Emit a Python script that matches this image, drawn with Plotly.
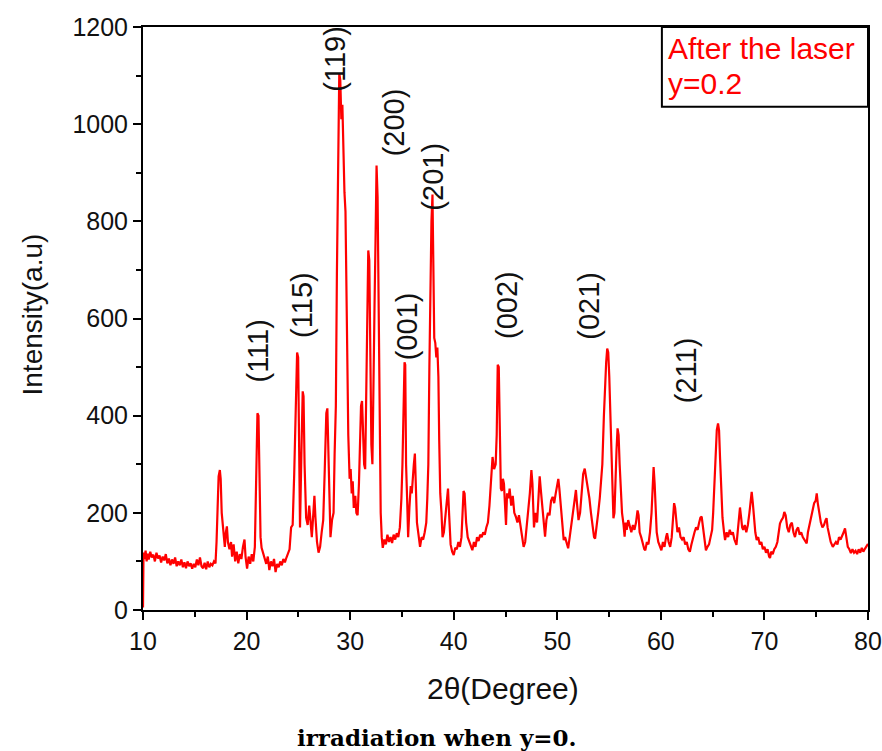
import plotly.graph_objects as go

# ---- XRD pattern: (2theta, intensity) pairs by region ----
seg_10_20 = [
    (10.0, 5), (10.05, 118), (10.15, 105), (10.25, 122), (10.35, 100), (10.45, 116), (10.55, 104),
    (10.7, 120), (10.85, 108), (11.0, 114), (11.15, 100), (11.3, 118), (11.45, 106), (11.6, 112),
    (11.75, 98), (11.9, 110), (12.05, 102), (12.2, 115), (12.35, 96), (12.5, 106), (12.65, 92),
    (12.8, 104), (12.95, 95), (13.1, 108), (13.25, 90), (13.4, 100), (13.55, 92), (13.7, 104),
    (13.85, 88), (14.0, 98), (14.15, 86), (14.3, 100), (14.45, 90), (14.6, 96), (14.75, 85),
    (14.9, 95), (15.05, 88), (15.2, 104), (15.35, 92), (15.5, 108), (15.65, 90), (15.8, 86),
    (15.95, 97), (16.1, 84), (16.25, 100), (16.4, 88), (16.55, 95), (16.7, 92), (16.85, 100),
    (17.0, 96), (17.1, 140), (17.2, 240), (17.3, 275), (17.42, 288), (17.5, 270), (17.6, 200),
    (17.7, 175), (17.8, 150), (17.9, 130), (18.0, 160), (18.1, 172), (18.2, 140), (18.35, 125),
    (18.5, 140), (18.6, 110), (18.75, 135), (18.9, 100), (19.05, 120), (19.2, 96), (19.35, 115),
    (19.5, 105), (19.65, 130), (19.8, 145), (19.9, 110),
]
seg_20_30 = [
    (20.05, 85), (20.2, 110), (20.35, 95), (20.5, 115), (20.65, 100), (20.8, 130), (20.95, 260),
    (21.05, 405), (21.15, 400), (21.25, 270), (21.35, 150), (21.45, 128), (21.6, 118), (21.75, 105),
    (21.9, 95), (22.05, 110), (22.2, 82), (22.35, 100), (22.5, 90), (22.65, 105), (22.8, 78),
    (22.95, 95), (23.1, 88), (23.25, 100), (23.4, 92), (23.55, 105), (23.7, 98), (23.85, 108),
    (24.0, 118), (24.15, 125), (24.3, 170), (24.45, 175), (24.6, 280), (24.75, 440), (24.88, 530),
    (24.98, 520), (25.08, 290), (25.16, 170), (25.3, 330), (25.42, 450), (25.5, 440), (25.6, 300),
    (25.75, 190), (25.9, 175), (26.05, 215), (26.15, 185), (26.3, 150), (26.45, 200), (26.55, 235),
    (26.65, 190), (26.8, 140), (26.95, 118), (27.1, 130), (27.25, 160), (27.4, 185), (27.55, 290),
    (27.7, 405), (27.8, 415), (27.9, 330), (28.0, 190), (28.1, 150), (28.25, 185), (28.4, 200),
    (28.5, 320), (28.62, 420), (28.72, 690), (28.85, 900), (28.95, 1105), (29.05, 1090),
    (29.15, 1010), (29.25, 1040), (29.35, 940), (29.45, 860), (29.55, 820), (29.62, 700),
    (29.72, 480), (29.82, 360), (29.95, 270),
]
seg_30_40 = [
    (30.05, 290), (30.15, 240), (30.25, 265), (30.35, 210), (30.5, 235), (30.6, 200), (30.72, 195),
    (30.85, 260), (30.95, 380), (31.05, 420), (31.15, 430), (31.25, 360), (31.35, 300), (31.45, 290),
    (31.55, 420), (31.65, 600), (31.75, 740), (31.85, 720), (31.95, 520), (32.05, 340), (32.15, 300),
    (32.25, 420), (32.35, 620), (32.45, 760), (32.55, 915), (32.65, 850), (32.75, 600), (32.85, 320),
    (32.95, 200), (33.05, 150), (33.15, 128), (33.3, 145), (33.45, 135), (33.6, 155), (33.75, 140),
    (33.9, 150), (34.05, 138), (34.2, 155), (34.35, 145), (34.5, 158), (34.65, 150), (34.8, 170),
    (34.95, 230), (35.05, 300), (35.15, 420), (35.25, 510), (35.32, 505), (35.4, 300), (35.5, 230),
    (35.6, 150), (35.72, 210), (35.85, 255), (35.95, 240), (36.05, 280), (36.15, 300), (36.25, 322),
    (36.35, 270), (36.45, 180), (36.6, 155), (36.75, 130), (36.9, 150), (37.05, 145), (37.2, 160),
    (37.35, 180), (37.45, 230), (37.55, 300), (37.65, 500), (37.75, 680), (37.85, 800), (37.95, 855),
    (38.05, 700), (38.12, 560), (38.22, 550), (38.32, 520), (38.42, 540), (38.52, 480), (38.6, 350),
    (38.7, 240), (38.82, 200), (38.92, 150), (39.05, 160), (39.2, 190), (39.35, 230), (39.45, 250),
    (39.55, 200), (39.7, 135), (39.85, 120),
]
seg_40_50 = [
    (40.0, 113), (40.15, 128), (40.3, 125), (40.45, 140), (40.6, 130), (40.75, 150), (40.85, 200),
    (40.95, 245), (41.05, 240), (41.2, 180), (41.35, 150), (41.5, 140), (41.65, 130), (41.8, 123),
    (41.95, 140), (42.1, 130), (42.25, 150), (42.4, 142), (42.55, 155), (42.7, 150), (42.85, 160),
    (43.0, 155), (43.15, 170), (43.3, 180), (43.45, 215), (43.6, 280), (43.75, 315), (43.9, 290),
    (44.05, 300), (44.15, 360), (44.25, 505), (44.35, 500), (44.45, 380), (44.55, 250), (44.65, 245),
    (44.75, 270), (44.85, 260), (44.95, 226), (45.05, 175), (45.15, 240), (45.3, 230), (45.4, 250),
    (45.55, 215), (45.7, 235), (45.85, 200), (46.0, 192), (46.15, 180), (46.3, 195), (46.45, 170),
    (46.6, 150), (46.75, 130), (46.9, 140), (47.05, 175), (47.2, 200), (47.35, 240), (47.5, 288),
    (47.6, 260), (47.75, 170), (47.9, 200), (48.05, 180), (48.2, 230), (48.3, 275), (48.4, 250),
    (48.55, 210), (48.7, 180), (48.82, 151), (48.95, 185), (49.1, 200), (49.25, 195), (49.4, 225),
    (49.55, 233), (49.7, 220), (49.85, 240),
]
seg_50_60 = [
    (50.0, 255), (50.1, 270), (50.2, 250), (50.35, 210), (50.5, 171), (50.62, 144), (50.75, 150),
    (50.9, 135), (51.05, 127), (51.2, 150), (51.35, 175), (51.5, 200), (51.65, 233), (51.8, 247),
    (51.9, 220), (52.05, 185), (52.2, 200), (52.35, 240), (52.5, 280), (52.65, 291), (52.8, 270),
    (52.95, 253), (53.1, 230), (53.25, 200), (53.4, 170), (53.55, 150), (53.65, 147), (53.8, 170),
    (53.95, 200), (54.1, 230), (54.25, 281), (54.35, 300), (54.5, 400), (54.6, 460), (54.72, 510),
    (54.82, 538), (54.92, 530), (55.02, 480), (55.12, 400), (55.22, 300), (55.32, 220), (55.42, 189),
    (55.52, 200), (55.62, 280), (55.72, 330), (55.82, 374), (55.92, 360), (56.02, 300), (56.12, 250),
    (56.25, 200), (56.4, 175), (56.5, 151), (56.6, 180), (56.7, 165), (56.85, 185), (57.0, 170),
    (57.15, 160), (57.3, 175), (57.45, 165), (57.6, 180), (57.75, 205), (57.85, 195), (57.95, 160),
    (58.1, 150), (58.25, 135), (58.4, 125), (58.5, 123), (58.65, 140), (58.8, 135), (58.95, 160),
    (59.1, 200), (59.2, 270), (59.3, 294), (59.4, 260), (59.5, 190), (59.6, 160), (59.75, 140),
    (59.9, 130),
]
seg_60_70 = [
    (60.05, 123), (60.2, 140), (60.35, 130), (60.5, 150), (60.6, 158), (60.75, 140), (60.9, 130),
    (61.05, 150), (61.15, 180), (61.28, 220), (61.38, 210), (61.5, 180), (61.6, 160), (61.75, 170),
    (61.9, 150), (62.05, 145), (62.2, 150), (62.35, 135), (62.5, 140), (62.65, 125), (62.8, 120),
    (62.95, 135), (63.1, 150), (63.25, 160), (63.4, 170), (63.55, 165), (63.7, 180), (63.82, 190),
    (63.94, 192), (64.05, 170), (64.2, 140), (64.35, 123), (64.5, 130), (64.65, 135), (64.8, 150),
    (64.95, 165), (65.05, 200), (65.15, 260), (65.28, 330), (65.4, 370), (65.52, 384), (65.62, 370),
    (65.72, 310), (65.82, 240), (65.95, 190), (66.1, 160), (66.2, 144), (66.35, 160), (66.5, 150),
    (66.65, 165), (66.8, 155), (66.95, 160), (67.1, 145), (67.3, 134), (67.45, 170), (67.55, 195),
    (67.64, 211), (67.75, 190), (67.85, 170), (67.95, 165), (68.1, 175), (68.25, 160), (68.4, 175),
    (68.55, 200), (68.65, 225), (68.77, 243), (68.88, 220), (69.0, 180), (69.12, 160), (69.25, 144),
    (69.4, 150), (69.55, 135), (69.7, 140), (69.85, 125),
]
seg_70_80 = [
    (70.0, 130), (70.15, 118), (70.3, 125), (70.45, 110), (70.54, 107), (70.65, 120), (70.8, 115),
    (70.95, 125), (71.1, 130), (71.25, 140), (71.4, 160), (71.5, 178), (71.65, 185), (71.8, 190),
    (71.92, 202), (72.05, 195), (72.2, 170), (72.35, 160), (72.5, 175), (72.65, 180), (72.8, 160),
    (72.95, 150), (73.1, 165), (73.25, 170), (73.4, 155), (73.55, 160), (73.7, 150), (73.85, 145),
    (74.0, 140), (74.08, 137), (74.2, 160), (74.35, 175), (74.5, 190), (74.65, 200), (74.8, 220),
    (74.95, 225), (75.05, 240), (75.15, 220), (75.3, 195), (75.45, 180), (75.6, 170), (75.75, 175),
    (75.9, 185), (76.0, 189), (76.1, 170), (76.25, 155), (76.4, 140), (76.6, 130), (76.75, 135),
    (76.9, 140), (77.05, 135), (77.2, 150), (77.35, 145), (77.5, 155), (77.65, 160), (77.78, 168),
    (77.9, 150), (78.05, 130), (78.2, 125), (78.35, 117), (78.5, 125), (78.65, 118), (78.8, 122),
    (78.95, 115), (79.1, 125), (79.25, 118), (79.4, 128), (79.55, 120), (79.7, 126), (79.85, 130),
    (80.0, 136),
]

# Miller-index labels and where they sit (data coordinates of the label centre)
peak_labels = ["(111)", "(115)", "(119)", "(200)", "(001)", "(201)", "(002)", "(021)", "(211)"]
label_x = [21.1, 25.4, 28.5, 34.2, 35.45, 38.0, 45.2, 53.1, 62.5]
label_y = [534, 627, 1134, 1003, 583, 892, 627, 627, 493]

legend_lines = ["After the laser", "y=0.2"]
x_title = "2θ(Degree)"
y_title = "Intensity(a.u)"
caption = "irradiation when y=0."

points = seg_10_20 + seg_20_30 + seg_30_40 + seg_40_50 + seg_50_60 + seg_60_70 + seg_70_80
two_theta = [p[0] for p in points]
intensity = [p[1] for p in points]

SANS = "Liberation Sans, Arial, sans-serif"

fig = go.Figure()
fig.add_trace(go.Scatter(
    x=two_theta, y=intensity, mode="lines",
    line=dict(color="#ff0000", width=2.2),
    showlegend=False, hoverinfo="skip",
))

annotations = []
for lab, lx, ly in zip(peak_labels, label_x, label_y):
    annotations.append(dict(
        x=lx, y=ly, xref="x", yref="y", text=lab, showarrow=False,
        textangle=-90, xanchor="center", yanchor="middle",
        font=dict(family=SANS, size=29, color="#111111"),
    ))

# legend-like text box
annotations.append(dict(x=60.45, y=1155, xref="x", yref="y", text=legend_lines[0],
                        showarrow=False, xanchor="left", yanchor="middle",
                        font=dict(family=SANS, size=30, color="#ff0000")))
annotations.append(dict(x=60.45, y=1083, xref="x", yref="y", text=legend_lines[1],
                        showarrow=False, xanchor="left", yanchor="middle",
                        font=dict(family=SANS, size=30, color="#ff0000")))

# axis titles and caption (paper coords relative to the plot area)
annotations.append(dict(x=0.496, y=-0.134, xref="paper", yref="paper", text=x_title,
                        showarrow=False, xanchor="center", yanchor="middle",
                        font=dict(family=SANS, size=30, color="#111111")))
annotations.append(dict(x=-0.153, y=0.507, xref="paper", yref="paper", text=y_title,
                        showarrow=False, xanchor="center", yanchor="middle", textangle=-90,
                        font=dict(family=SANS, size=28, color="#111111")))
annotations.append(dict(x=0.406, y=-0.218, xref="paper", yref="paper", text="<b>" + caption + "</b>",
                        showarrow=False, xanchor="center", yanchor="middle",
                        font=dict(family="DejaVu Serif, Liberation Serif, serif", size=23, color="#000000")))

fig.add_shape(type="rect", xref="x", yref="y", x0=60.1, x1=80, y0=1036, y1=1200,
              line=dict(color="#000000", width=2), fillcolor="rgba(0,0,0,0)")

axis_common = dict(
    showline=True, linecolor="#000000", linewidth=2, mirror=True,
    ticks="outside", ticklen=8, tickwidth=2, tickcolor="#000000",
    showgrid=False, zeroline=False, automargin=False,
    tickfont=dict(family=SANS, size=25, color="#111111"),
)

fig.update_xaxes(range=[10, 80], tickmode="array", tickvals=[10, 20, 30, 40, 50, 60, 70, 80],
                 minor=dict(ticks="outside", ticklen=5, tickwidth=2, tickcolor="#000000", dtick=5, tick0=0),
                 **axis_common)
fig.update_yaxes(range=[0, 1200], tickmode="array", tickvals=[0, 200, 400, 600, 800, 1000, 1200],
                 minor=dict(ticks="outside", ticklen=5, tickwidth=2, tickcolor="#000000", dtick=100, tick0=0),
                 **axis_common)

fig.update_layout(
    width=882, height=751,
    margin=dict(l=143, r=14, t=27, b=141),
    paper_bgcolor="#ffffff", plot_bgcolor="#ffffff",
    annotations=annotations,
)

# remove the page's default body margin so the figure sits at the window's top-left corner
fig.write_html("out.html",
               config={"displayModeBar": False},
               post_script="document.body.style.margin='0';document.body.style.overflow='hidden';")
